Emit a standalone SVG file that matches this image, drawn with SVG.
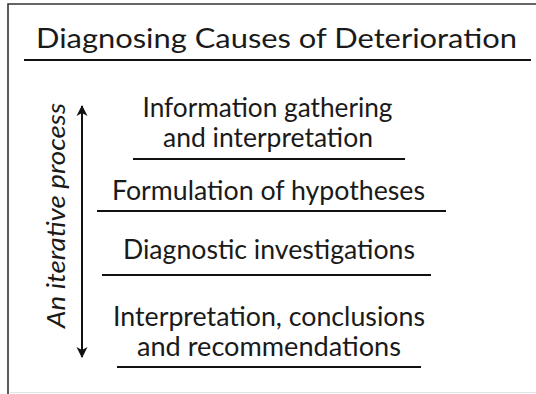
<svg xmlns="http://www.w3.org/2000/svg" width="536" height="394" viewBox="0 0 536 394">
  <style>
    .frame { stroke: #333; stroke-width: 1.6; fill: none; }
    .rule { stroke: #111; stroke-width: 2; fill: none; }
    .title { font-family: Lato, "Open Sans", "Liberation Sans", sans-serif; font-size: 27px; fill: #1a1a1a; text-anchor: middle; }
    .step { font-family: Lato, "Open Sans", "Liberation Sans", sans-serif; font-size: 26px; fill: #1a1a1a; text-anchor: middle; }
    .side { font-family: Lato, "Open Sans", "Liberation Sans", sans-serif; font-size: 25px; font-style: italic; fill: #1a1a1a; text-anchor: middle; }
    .axis { stroke: #111; stroke-width: 2; fill: none; }
  </style>
  <defs>
    <marker id="head" viewBox="0 0 12 12" refX="10" refY="6" markerWidth="12" markerHeight="12" markerUnits="userSpaceOnUse" orient="auto-start-reverse">
      <path d="M0,0.5 L11,6 L0,11.5 L3,6 Z" fill="#111"/>
    </marker>
  </defs>

  <rect width="536" height="394" fill="#fff"/>

  <!-- outer frame -->
  <g id="frame">
    <path class="frame" d="M8,394 L8,4 L536,4"/>
    <line x1="10" y1="392.5" x2="536" y2="392.5" stroke="#e4e4e4" stroke-width="1.2"/>
  </g>

  <!-- heading -->
  <g id="title">
    <text class="title" x="276.5" y="48" textLength="481" lengthAdjust="spacingAndGlyphs">Diagnosing Causes of Deterioration</text>
    <line class="rule" x1="24" y1="60" x2="531" y2="60"/>
  </g>

  <!-- process steps -->
  <g id="step-information">
    <text class="step" x="267.5" y="117" textLength="250" lengthAdjust="spacingAndGlyphs">Information gathering</text>
    <text class="step" x="268" y="147" textLength="210" lengthAdjust="spacingAndGlyphs">and interpretation</text>
    <line class="rule" x1="133" y1="159" x2="405" y2="159"/>
  </g>

  <g id="step-hypotheses">
    <text class="step" x="268.5" y="200" textLength="313" lengthAdjust="spacingAndGlyphs">Formulation of hypotheses</text>
    <line class="rule" x1="97" y1="211" x2="446" y2="211"/>
  </g>

  <g id="step-investigations">
    <text class="step" x="269" y="259" textLength="292" lengthAdjust="spacingAndGlyphs">Diagnostic investigations</text>
    <line class="rule" x1="102" y1="275" x2="431" y2="275"/>
  </g>

  <g id="step-conclusions">
    <text class="step" x="269" y="325.5" textLength="312" lengthAdjust="spacingAndGlyphs">Interpretation, conclusions</text>
    <text class="step" x="269" y="356" textLength="264" lengthAdjust="spacingAndGlyphs">and recommendations</text>
    <line class="rule" x1="117" y1="367" x2="421" y2="367"/>
  </g>

  <!-- iteration label and double-headed arrow -->
  <g id="iteration">
    <text class="side" x="65" y="215.5" transform="rotate(-90 65 215.5)" textLength="225" lengthAdjust="spacingAndGlyphs">An iterative process</text>
  </g>
  <g id="connectors">
    <line class="axis" x1="82" y1="106" x2="82" y2="357" marker-start="url(#head)" marker-end="url(#head)"/>
  </g>
</svg>
